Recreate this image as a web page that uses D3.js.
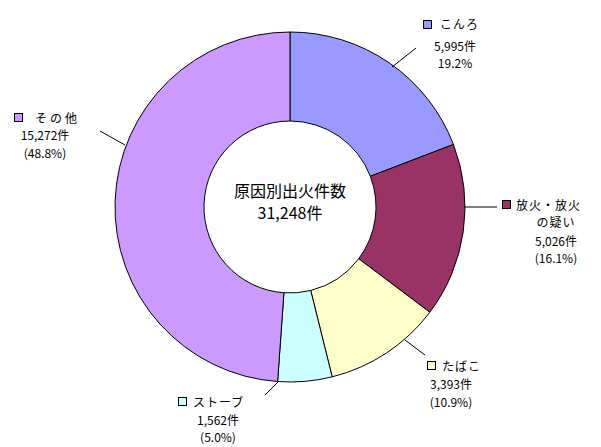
<!DOCTYPE html><html><head><meta charset="utf-8"><script src="https://cdn.jsdelivr.net/npm/d3@7"></script>
<style>body{margin:0;background:#fff}text{font-family:"Noto Sans CJK JP";font-size:12px}</style></head><body><svg width="601" height="447"></svg>
<script>
const categories=["こんろ","放火・放火の疑い","たばこ","ストーブ","その他"];
const values=[5995,5026,3393,1562,15272];
const countLabels=["5,995件","5,026件","3,393件","1,562件","15,272件"];
const pctLabels=["19.2%","(16.1%)","(10.9%)","(5.0%)","(48.8%)"];
const colors=["#9999ff","#993366","#ffffcc","#ccffff","#cc99ff"];
const svg=d3.select("svg");
const cx=290,cy=207,R=175,r=86;
const pie=d3.pie().sort(null).value(d=>d)(values);
const arc=d3.arc().innerRadius(r).outerRadius(R);
const g=svg.append("g").attr("transform",`translate(${cx},${cy})`);
g.selectAll("path").data(pie).join("path").attr("d",arc).attr("fill",(d,i)=>colors[i]).attr("stroke","#000").attr("stroke-width",1);
// label layout: [square x, square y, title lines..., text center x, line y's]
const L=[
 {sq:[423,20],title:[["こんろ",440,29]],c:455,ys:[51,68],ln:[[392,67],[416,48]]},
 {sq:[502,200],title:[["放火・放火",516,210],["の疑い",556,227,"middle"]],c:556,ys:[246,263],ln:[[465,207],[497,207]]},
 {sq:[427,361],title:[["たばこ",442,371]],c:451,ys:[389,407],ln:[[405,340],[425,355]]},
 {sq:[178,397],title:[["ストーブ",193,407]],c:218,ys:[425,442],ln:[[278,382],[265,395]]},
 {sq:[14,113],title:[["その他",35,123]],c:45,ys:[140,158],ln:[[100,131],[125,145]]}
];
L.forEach((l,i)=>{
 svg.append("line").attr("x1",l.ln[0][0]).attr("y1",l.ln[0][1]).attr("x2",l.ln[1][0]).attr("y2",l.ln[1][1]).attr("stroke","#000");
 svg.append("rect").attr("x",l.sq[0]+.5).attr("y",l.sq[1]+.5).attr("width",8).attr("height",8).attr("fill",colors[i]).attr("stroke","#000");
 l.title.forEach(t=>svg.append("text").attr("x",t[1]).attr("y",t[2]).attr("text-anchor",t[3]||"start").attr("letter-spacing",i==4?"3":"1").text(t[0]));
 svg.append("text").attr("x",l.c).attr("y",l.ys[0]).attr("text-anchor","middle").text(countLabels[i]);
 svg.append("text").attr("x",l.c).attr("y",l.ys[1]).attr("text-anchor","middle").text(pctLabels[i]);
});
svg.append("text").attr("x",cx).attr("y",197).attr("text-anchor","middle").style("font-size","16px").text("原因別出火件数");
svg.append("text").attr("x",cx).attr("y",219).attr("text-anchor","middle").style("font-size","16px").text("31,248件");
</script></body></html>
